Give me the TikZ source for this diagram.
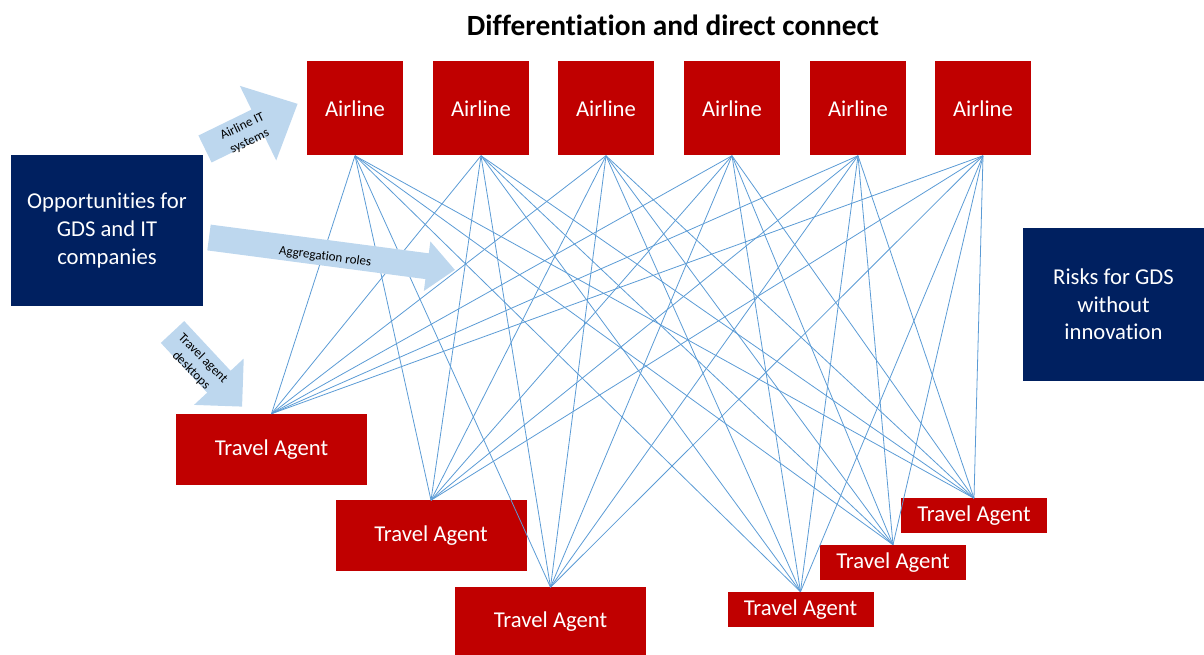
\documentclass[tikz,border=0pt]{standalone}
\usepackage{fontspec}
\setmainfont{Carlito}[Ligatures=NoCommon]

\definecolor{airred}{HTML}{C00000}
\definecolor{gdsnavy}{HTML}{002060}
\definecolor{arrowblue}{HTML}{BDD7EE}
\definecolor{linkblue}{HTML}{5B9BD5}

\tikzset{
  redbox/.style={fill=airred, text=white, inner sep=0pt, font=\fontsize{17}{20.7}\selectfont},
  airline/.style={redbox, minimum width=72pt, minimum height=70.5pt},
  agent/.style={redbox, minimum width=143.25pt, minimum height=53.25pt},
  smallagent/.style={redbox, minimum width=109.5pt, minimum height=26.25pt},
  navybox/.style={fill=gdsnavy, text=white, align=center, inner sep=0pt, font=\fontsize{17}{20.7}\selectfont},
  link/.style={draw=linkblue, line width=0.6pt},
  fatarrow/.style={fill=arrowblue},
  arrowtext/.style={align=center, inner sep=0pt, font=\fontsize{9.8}{12.5}\selectfont}
}

\begin{document}
\begin{tikzpicture}[x=0.75pt, y=-0.75pt]
\useasboundingbox (0,0) rectangle (1204,655);

\node[font=\fontsize{22}{26}\selectfont\bfseries] (title) at (673,25) {Differentiation and direct connect};

% airlines on top
\foreach \x [count=\i] in {355,481,606,732,858,983}
  \node[airline] (air\i) at (\x,108.5) {Airline};

% travel agents
\node[agent] (ta1) at (271.5,449.5) {Travel Agent};
\node[agent] (ta2) at (431,536) {Travel Agent};
\node[agent, minimum height=51pt] (ta3) at (550.5,621.5) {Travel Agent};
\node[smallagent] (ta4) at (800.5,609.5) {Travel Agent};
\node[smallagent] (ta5) at (893,562.5) {Travel Agent};
\node[smallagent] (ta6) at (974,516) {Travel Agent};

\node[navybox, minimum width=144pt, minimum height=113.25pt] (opp) at (107,230.5) {Opportunities for\\GDS and IT\\companies};
\node[navybox, minimum width=135.75pt, minimum height=114.75pt] (risk) at (1113.5,304.5) {Risks for GDS\\without\\innovation};

% every airline to every agent
\foreach \a in {1,...,6}
  \foreach \t in {1,...,6}
    \draw[link] (air\a.south) -- (ta\t.north);

% block arrows
\fill[fatarrow, shift={(205,149)}, rotate=26] (0,-15) -- (59,-15) -- (59,-41.5) -- (103,0) -- (59,41.5) -- (59,15) -- (0,15) -- cycle;
\fill[fatarrow, shift={(209,237.5)}, rotate=-7.5] (0,-13) -- (220,-13) -- (220,-25) -- (248,0) -- (220,25) -- (220,13) -- (0,13) -- cycle;
\fill[fatarrow, shift={(172.5,332)}, rotate=-47] (0,-16) -- (68,-16) -- (68,-34) -- (102,0) -- (68,34) -- (68,16) -- (0,16) -- cycle;

\node[arrowtext, rotate=26] (itlabel) at (246,134) {Airline IT\\systems};
\node[arrowtext, rotate=-7.5] (agglabel) at (325,257) {Aggregation roles};
\node[arrowtext, rotate=-45] (desklabel) at (197,364.5) {Travel agent\\desktops};
\end{tikzpicture}
\end{document}
